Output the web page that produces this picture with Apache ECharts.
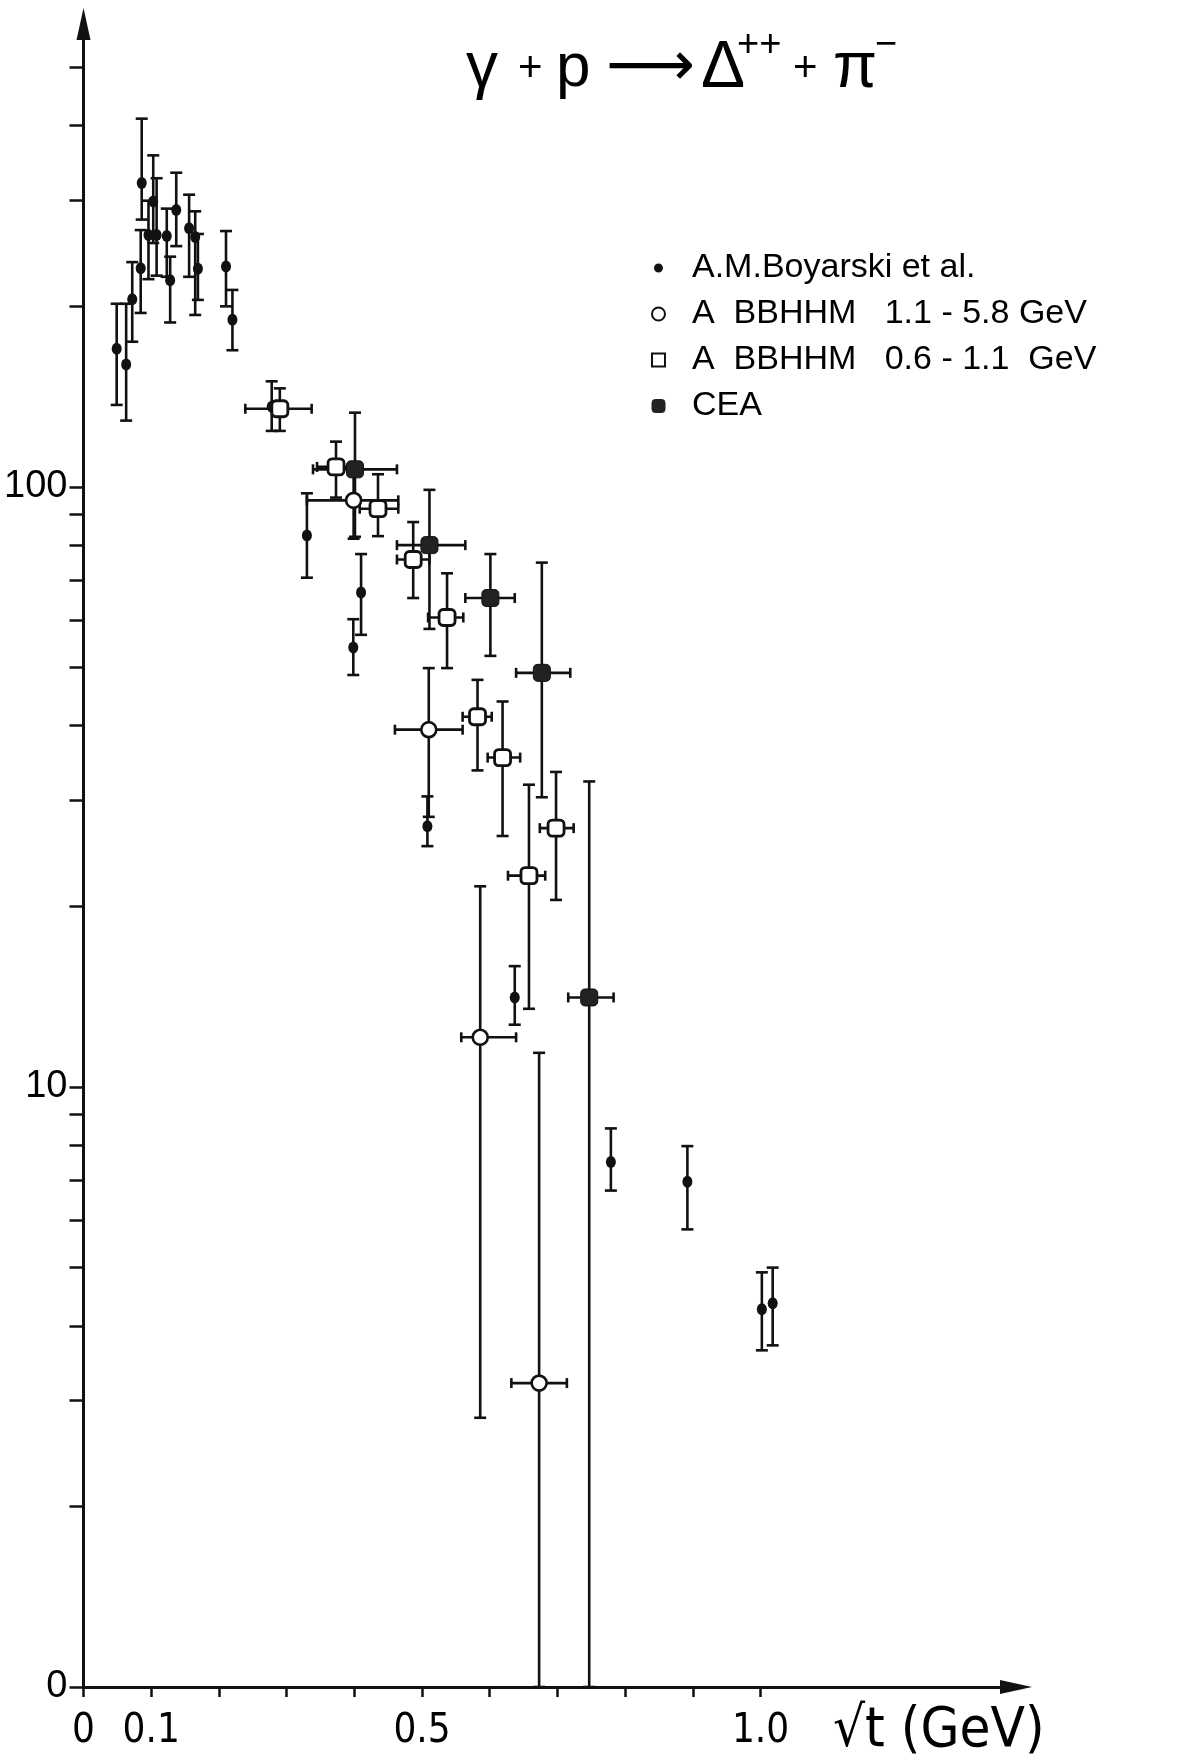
<!DOCTYPE html>
<html>
<head>
<meta charset="utf-8">
<script src="https://cdn.jsdelivr.net/npm/echarts@6/dist/echarts.min.js"></script>
<style>
  html, body { margin: 0; padding: 0; background: #fff; }
  #chart { width: 1202px; height: 1760px; }
</style>
</head>
<body>
<div id="chart"></div>
<script>
// γ p → Δ++ π− : differential cross section versus √t (GeV), log scale

// A.M. Boyarski et al. (filled dots, vertical errors only)
const boyX  = [0.049, 0.063, 0.072, 0.0845, 0.086, 0.096, 0.103, 0.108, 0.123, 0.128, 0.137, 0.156, 0.165,
               0.169, 0.2105, 0.220, 0.278, 0.330, 0.3985, 0.410, 0.508, 0.637, 0.779, 0.892, 1.002, 1.018];
const boyY  = [170, 160, 205.6, 231.5, 321, 263, 299, 263, 262, 221, 289.5, 270, 261,
               231, 233, 190, 136, 83, 54, 66.7, 27.2, 14.1, 7.5, 6.95, 4.26, 4.36];
const boyLo = [137, 129, 174.6, 195, 279, 222, 255, 225, 224, 188, 252, 224, 193.5,
               205, 200, 169, 124, 70.6, 48.6, 56.7, 25.2, 12.7, 6.72, 5.79, 3.64, 3.71];
const boyHi = [202, 202, 237, 268, 411, 300, 357, 327, 291, 242, 334, 307, 288,
               264, 267, 213, 150, 97.6, 60.2, 77.3, 30.5, 15.9, 8.53, 7.97, 4.91, 5.0];

// ABBHHM 1.1 - 5.8 GeV (open circles)
const hiX   = [0.399, 0.510, 0.586, 0.673];
const hiY   = [95, 39.4, 12.1, 3.21];
const hiLo  = [82, 28.2, 2.81, 1];
const hiHi  = [108, 49.9, 21.6, 11.4];
const hiXLo = [0.330, 0.460, 0.558, 0.632];
const hiXHi = [0.465, 0.560, 0.639, 0.714];

// ABBHHM 0.6 - 1.1 GeV (open squares)
const loX   = [0.290, 0.373, 0.435, 0.487, 0.537, 0.582, 0.619, 0.658, 0.698];
const loY   = [135, 108, 92, 75.7, 60.6, 41.4, 35.4, 22.5, 27];
const loLo  = [124, 96, 82.8, 65.3, 49.9, 33.7, 26.2, 13.5, 20.5];
const loHi  = [146, 119, 105, 87.4, 71.8, 47.7, 43.9, 31.9, 33.5];
const loXLo = [0.239, 0.345, 0.408, 0.463, 0.509, 0.560, 0.597, 0.627, 0.674];
const loXHi = [0.337, 0.400, 0.465, 0.511, 0.561, 0.603, 0.645, 0.682, 0.724];

// CEA (filled squares)
const ceaX   = [0.401, 0.511, 0.601, 0.677, 0.747];
const ceaY   = [107, 80, 65.3, 49, 14.1];
const ceaLo  = [82.6, 58, 52.3, 30.4, 1];
const ceaHi  = [133, 98.9, 77.3, 74.8, 32.3];
const ceaXLo = [0.339, 0.463, 0.564, 0.639, 0.716];
const ceaXHi = [0.463, 0.564, 0.637, 0.719, 0.783];

// Axis ticks and labels
const xTickValues  = [0, 0.1, 0.2, 0.3, 0.4, 0.5, 0.6, 0.7, 0.8, 0.9, 1.0];
const xLabelValues = [0, 0.1, 0.5, 1.0];
const xLabelTexts  = ['0', '0.1', '0.5', '1.0'];
const yTickValues  = [1, 2, 3, 4, 5, 6, 7, 8, 9, 10, 20, 30, 40, 50, 60, 70, 80, 90, 100, 200, 300, 400, 500];
const yLabelValues = [1, 10, 100];
const yLabelTexts  = ['0', '10', '100'];

const seriesNames = ['A.M.Boyarski et al.', 'A  BBHHM   1.1 - 5.8 GeV', 'A  BBHHM   0.6 - 1.1  GeV', 'CEA'];

const INK = '#111';
const narrowFont = '"Liberation Sans Narrow", "DejaVu Sans Condensed", "Liberation Sans", sans-serif';
const plainFont = '"Liberation Sans", "DejaVu Sans", sans-serif';

function zip(xs, ys) { return xs.map((x, i) => [x, ys[i]]); }

// Error bars: vertical bar with caps, optional horizontal bar with caps
function errorBars(id, xs, ys, lo, hi, xlo, xhi, capHalf) {
  const data = xs.map((x, i) => [x, ys[i], lo[i], hi[i], xlo ? xlo[i] : x, xhi ? xhi[i] : x]);
  return {
    type: 'custom',
    id: id,
    name: id,
    silent: true,
    z: 2,
    encode: { x: [0, 4, 5], y: [1, 2, 3] },
    data: data,
    renderItem: function (params, api) {
      const x = api.value(0), y = api.value(1);
      const top = api.coord([x, api.value(3)]);
      const bot = api.coord([x, api.value(2)]);
      const c = api.coord([x, y]);
      const style = { stroke: INK, lineWidth: 2.6 };
      const kids = [
        { type: 'line', shape: { x1: top[0], y1: top[1], x2: bot[0], y2: bot[1] }, style },
        { type: 'line', shape: { x1: top[0] - capHalf, y1: top[1], x2: top[0] + capHalf, y2: top[1] }, style },
        { type: 'line', shape: { x1: bot[0] - capHalf, y1: bot[1], x2: bot[0] + capHalf, y2: bot[1] }, style }
      ];
      const xl = api.value(4), xr = api.value(5);
      if (xr > xl) {
        const L = api.coord([xl, y]), R = api.coord([xr, y]);
        kids.push({ type: 'line', shape: { x1: L[0], y1: c[1], x2: R[0], y2: c[1] }, style });
        kids.push({ type: 'line', shape: { x1: L[0], y1: c[1] - 5, x2: L[0], y2: c[1] + 5 }, style });
        kids.push({ type: 'line', shape: { x1: R[0], y1: c[1] - 5, x2: R[0], y2: c[1] + 5 }, style });
      }
      return { type: 'group', children: kids };
    }
  };
}

const chart = echarts.init(document.getElementById('chart'), null, { renderer: 'canvas' });

const titleBase = { fontFamily: plainFont, fontWeight: 'normal', color: '#000' };

chart.setOption({
  animation: false,
  backgroundColor: '#fff',
  title: {
    left: 461,
    top: 22,
    text: '{g|γ}{o|+}{p|p}{a|⟶}{d|Δ}{s|++}{q|+}{m|π}{t|−}',
    textStyle: {
      fontWeight: 'normal',
      rich: {
        g: Object.assign({}, titleBase, { fontSize: 64, lineHeight: 84, width: 52 }),
        o: Object.assign({}, titleBase, { fontSize: 42, lineHeight: 84, width: 38 }),
        p: Object.assign({}, titleBase, { fontSize: 62, lineHeight: 84, width: 50 }),
        a: Object.assign({}, titleBase, { fontFamily: '"DejaVu Sans", sans-serif', fontSize: 62, lineHeight: 84, width: 95 }),
        d: Object.assign({}, titleBase, { fontSize: 66, lineHeight: 84, width: 36 }),
        s: Object.assign({}, titleBase, { fontSize: 38, lineHeight: 40, verticalAlign: 'top', width: 56 }),
        q: Object.assign({}, titleBase, { fontSize: 42, lineHeight: 84, width: 40 }),
        m: Object.assign({}, titleBase, { fontSize: 64, lineHeight: 84, width: 42 }),
        t: Object.assign({}, titleBase, { fontSize: 38, lineHeight: 40, verticalAlign: 'top', width: 22 })
      }
    }
  },
  legend: {
    orient: 'vertical',
    left: 645,
    top: 246,
    itemWidth: 13,
    itemHeight: 13,
    itemGap: 12,
    selectedMode: false,
    textStyle: { fontFamily: plainFont, fontSize: 34, lineHeight: 34, color: '#000', padding: [0, 0, 0, 22] },
    data: [
      { name: seriesNames[0], icon: 'circle', itemStyle: { color: INK, borderColor: '#fff', borderWidth: 4 } },
      { name: seriesNames[1], icon: 'circle', itemStyle: { color: '#fff', borderColor: INK, borderWidth: 2 } },
      { name: seriesNames[2], icon: 'rect', itemStyle: { color: '#fff', borderColor: INK, borderWidth: 2 } },
      { name: seriesNames[3], icon: 'roundRect', itemStyle: { color: '#222', borderColor: '#222', borderWidth: 1 } }
    ]
  },
  grid: { left: 83.5, right: 186, top: 24, bottom: 73, containLabel: false, outerBoundsMode: 'none' },
  xAxis: {
    type: 'value',
    min: 0,
    max: 1.3774,
    name: '√t (GeV)',
    nameLocation: 'end',
    nameGap: -183,
    nameTextStyle: { fontFamily: narrowFont, fontSize: 56, color: '#000', align: 'left', verticalAlign: 'top', padding: [16, 0, 0, 0] },
    axisLine: { onZero: false, symbol: ['none', 'triangle'], symbolSize: [14, 32], lineStyle: { color: INK, width: 3 } },
    axisTick: { show: true, customValues: xTickValues, length: 10, lineStyle: { color: INK, width: 2.5 } },
    axisLabel: {
      customValues: xLabelValues,
      margin: 25,
      fontFamily: narrowFont,
      fontSize: 40,
      color: '#000',
      formatter: function (v) {
        const i = xLabelValues.findIndex(t => Math.abs(t - v) < 1e-6);
        return i >= 0 ? xLabelTexts[i] : '';
      }
    },
    splitLine: { show: false }
  },
  yAxis: {
    type: 'log',
    logBase: 10,
    min: 1,
    max: 591,
    axisLine: { onZero: false, symbol: ['none', 'triangle'], symbolSize: [14, 32], lineStyle: { color: INK, width: 3 } },
    axisTick: { show: true, customValues: yTickValues, length: 14, lineStyle: { color: INK, width: 2.5 } },
    axisLabel: {
      customValues: yLabelValues,
      margin: 16,
      fontFamily: plainFont,
      fontSize: 38,
      color: '#000',
      formatter: function (v) {
        const i = yLabelValues.findIndex(t => Math.abs(Math.log10(t) - Math.log10(v)) < 1e-6);
        return i >= 0 ? yLabelTexts[i] : '';
      }
    },
    splitLine: { show: false },
    minorTick: { show: false }
  },
  series: [
    errorBars('err-boy', boyX, boyY, boyLo, boyHi, null, null, 6),
    errorBars('err-hi', hiX, hiY, hiLo, hiHi, hiXLo, hiXHi, 6),
    errorBars('err-lo', loX, loY, loLo, loHi, loXLo, loXHi, 6),
    errorBars('err-cea', ceaX, ceaY, ceaLo, ceaHi, ceaXLo, ceaXHi, 6),
    {
      type: 'scatter', name: seriesNames[0], z: 5, symbol: 'circle', symbolSize: [10, 12],
      itemStyle: { color: INK, opacity: 1 }, data: zip(boyX, boyY)
    },
    {
      type: 'scatter', name: seriesNames[1], z: 5, symbol: 'circle', symbolSize: 15,
      itemStyle: { color: '#fff', borderColor: INK, borderWidth: 2.6, opacity: 1 }, data: zip(hiX, hiY)
    },
    {
      type: 'scatter', name: seriesNames[2], z: 5, symbol: 'roundRect', symbolSize: 16,
      itemStyle: { color: '#fff', borderColor: INK, borderWidth: 2.8, opacity: 1 }, data: zip(loX, loY)
    },
    {
      type: 'scatter', name: seriesNames[3], z: 5, symbol: 'roundRect', symbolSize: 17,
      itemStyle: { color: '#222', borderColor: INK, borderWidth: 1, opacity: 1 }, data: zip(ceaX, ceaY)
    }
  ]
});
</script>
</body>
</html>
